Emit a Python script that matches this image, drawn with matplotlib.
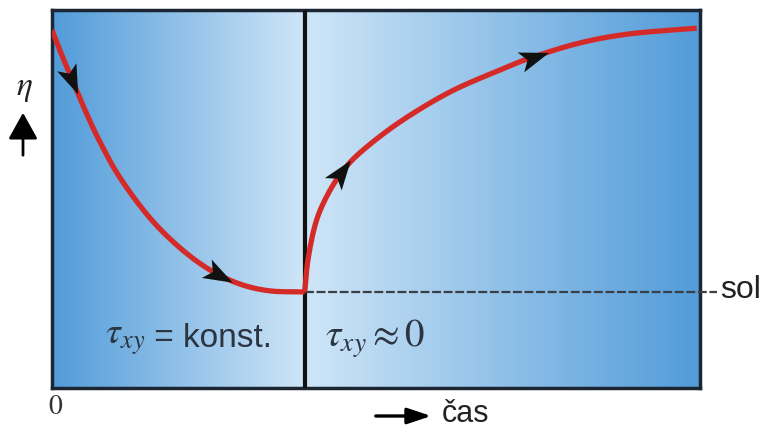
import numpy as np
import matplotlib
matplotlib.use("Agg")
import matplotlib.pyplot as plt
from matplotlib.colors import LinearSegmentedColormap
from matplotlib.patches import FancyArrowPatch
from matplotlib.path import Path
from matplotlib.markers import MarkerStyle
from matplotlib.transforms import Affine2D

plt.rcParams["mathtext.fontset"] = "stix"

# data (arbitrary units: time 0..10, viscosity 0..10)
t_rest = [0.0, 0.12, 0.28, 0.51, 0.74, 1.05, 1.51, 1.98, 2.44, 2.90, 3.36, 3.90]
eta_rest = [9.47, 8.94, 8.28, 7.35, 6.51, 5.56, 4.50, 3.70, 3.12, 2.75, 2.57, 2.54]
t_shear = [3.90, 3.95, 4.06, 4.21, 4.44, 4.75, 5.37, 6.14, 6.91, 7.38, 8.15, 8.92, 9.95]
eta_shear = [2.54, 3.39, 4.31, 4.97, 5.63, 6.22, 7.04, 7.83, 8.41, 8.73, 9.13, 9.37, 9.52]
t_switch = 3.90
eta_sol = 2.54
arrows_rest = [0.30, 2.55]
arrows_shear = [4.45, 7.40]
label_left_math = r"$\tau_{xy}$"
label_left_text = " = konst."
label_right = r"$\tau_{xy} \approx 0$"

fig = plt.figure(figsize=(7.72, 4.3), dpi=100)
ax = fig.add_axes([52/772, 42/430, 648/772, 378/430])
ax.set_xlim(0, 10)
ax.set_ylim(0, 10)

dark = np.array([0.32, 0.61, 0.85])
light = np.array([0.81, 0.90, 0.97])
cmap = LinearSegmentedColormap.from_list("bl", [dark, light])
g = np.linspace(0, 1, 256)[None, :]
ax.imshow(g, cmap=cmap, extent=[0, t_switch, 0, 10], aspect="auto", zorder=0)
ax.imshow(g[:, ::-1], cmap=cmap, extent=[t_switch, 10, 0, 10], aspect="auto", zorder=0)

for s in ax.spines.values():
    s.set_linewidth(2.5)
    s.set_color("#1c2633")
ax.set_xticks([]); ax.set_yticks([])

ax.axvline(t_switch, color="#111111", lw=3, zorder=3)
ax.plot([t_switch, 10.27], [eta_sol, eta_sol], color="#3a3f46", lw=1.6,
        ls=(0, (4, 1.2)), clip_on=False, zorder=3)


def catmull(xs, ys, n=20):
    P = np.column_stack([xs, ys])
    P = np.vstack([2 * P[0] - P[1], P, 2 * P[-1] - P[-2]])
    out = []
    for i in range(1, len(P) - 2):
        p0, p1, p2, p3 = P[i - 1], P[i], P[i + 1], P[i + 2]
        for s in np.linspace(0, 1, n, endpoint=False):
            s2, s3 = s * s, s * s * s
            out.append(0.5 * ((2 * p1) + (-p0 + p2) * s + (2 * p0 - 5 * p1 + 4 * p2 - p3) * s2
                              + (-p0 + 3 * p1 - 3 * p2 + p3) * s3))
    out.append(P[-2])
    out = np.array(out)
    return out[:, 0], out[:, 1]


for ts, es in [(t_rest, eta_rest), (t_shear, eta_shear)]:
    xs, ys = catmull(ts, es)
    ax.plot(xs, ys, color="#d52b28", lw=3.8, solid_capstyle="butt", zorder=4)

dart = Path([(1.0, 0.0), (-0.7, 0.6), (-0.3, 0.0), (-0.7, -0.6), (1.0, 0.0)],
            [Path.MOVETO, Path.LINETO, Path.LINETO, Path.LINETO, Path.CLOSEPOLY])


def arrow_on(ts, es, tx):
    ts = np.asarray(ts); es = np.asarray(es)
    xs, ys = catmull(ts, es, n=60)
    y0 = np.interp(tx, xs, ys)
    d = 0.03
    p0 = ax.transData.transform((tx - d, np.interp(tx - d, xs, ys)))
    p1 = ax.transData.transform((tx + d, np.interp(tx + d, xs, ys)))
    ang = np.degrees(np.arctan2(p1[1] - p0[1], p1[0] - p0[0]))
    m = MarkerStyle(dart, transform=Affine2D().rotate_deg(ang))
    ax.plot([tx], [y0], marker=m, markersize=25, color="#111111", lw=0,
            markeredgewidth=0, zorder=5)


for a in arrows_rest:
    arrow_on(t_rest, eta_rest, a)
for a in arrows_shear:
    arrow_on(t_shear, eta_shear, a)

tl = ax.text(0.82, 1.3, label_left_math, fontsize=27, color="#2b3440",
             va="center", ha="left", zorder=6)
fig.canvas.draw()
bb = tl.get_window_extent()
x_after = ax.transData.inverted().transform((bb.x1, bb.y0))[0]
ax.text(x_after, 1.3, label_left_text, fontsize=24, color="#2b3440",
        family="Liberation Sans", va="center", ha="left", zorder=6)
ax.text(4.22, 1.3, label_right, fontsize=28, color="#2b3440",
        va="center", ha="left", zorder=6)

fig.text(720/772, (430-290)/430, "sol", fontsize=23, family="Liberation Sans",
         color="#222222", va="center", ha="left")
fig.text(55/772, (430-407)/430, "0", fontsize=20, family="STIXGeneral",
         color="#333333", va="center", ha="center")
fig.text(24/772, (430-88)/430, r"$\eta$", fontsize=24, color="#222222",
         va="center", ha="center")
fig.add_artist(FancyArrowPatch((23, 430-158), (23, 430-110), transform=None,
               arrowstyle="-|>,head_length=0.9,head_width=0.5", mutation_scale=18,
               color="black", lw=2))
fig.add_artist(FancyArrowPatch((373, 430-416), (434, 430-416), transform=None,
               arrowstyle="-|>,head_length=0.9,head_width=0.3", mutation_scale=16,
               color="black", lw=2.4))
fig.text(442/772, (430-414)/430, "čas", fontsize=22, family="Liberation Sans",
         color="#222222", va="center", ha="left")

fig.savefig("out.png", dpi=100)
